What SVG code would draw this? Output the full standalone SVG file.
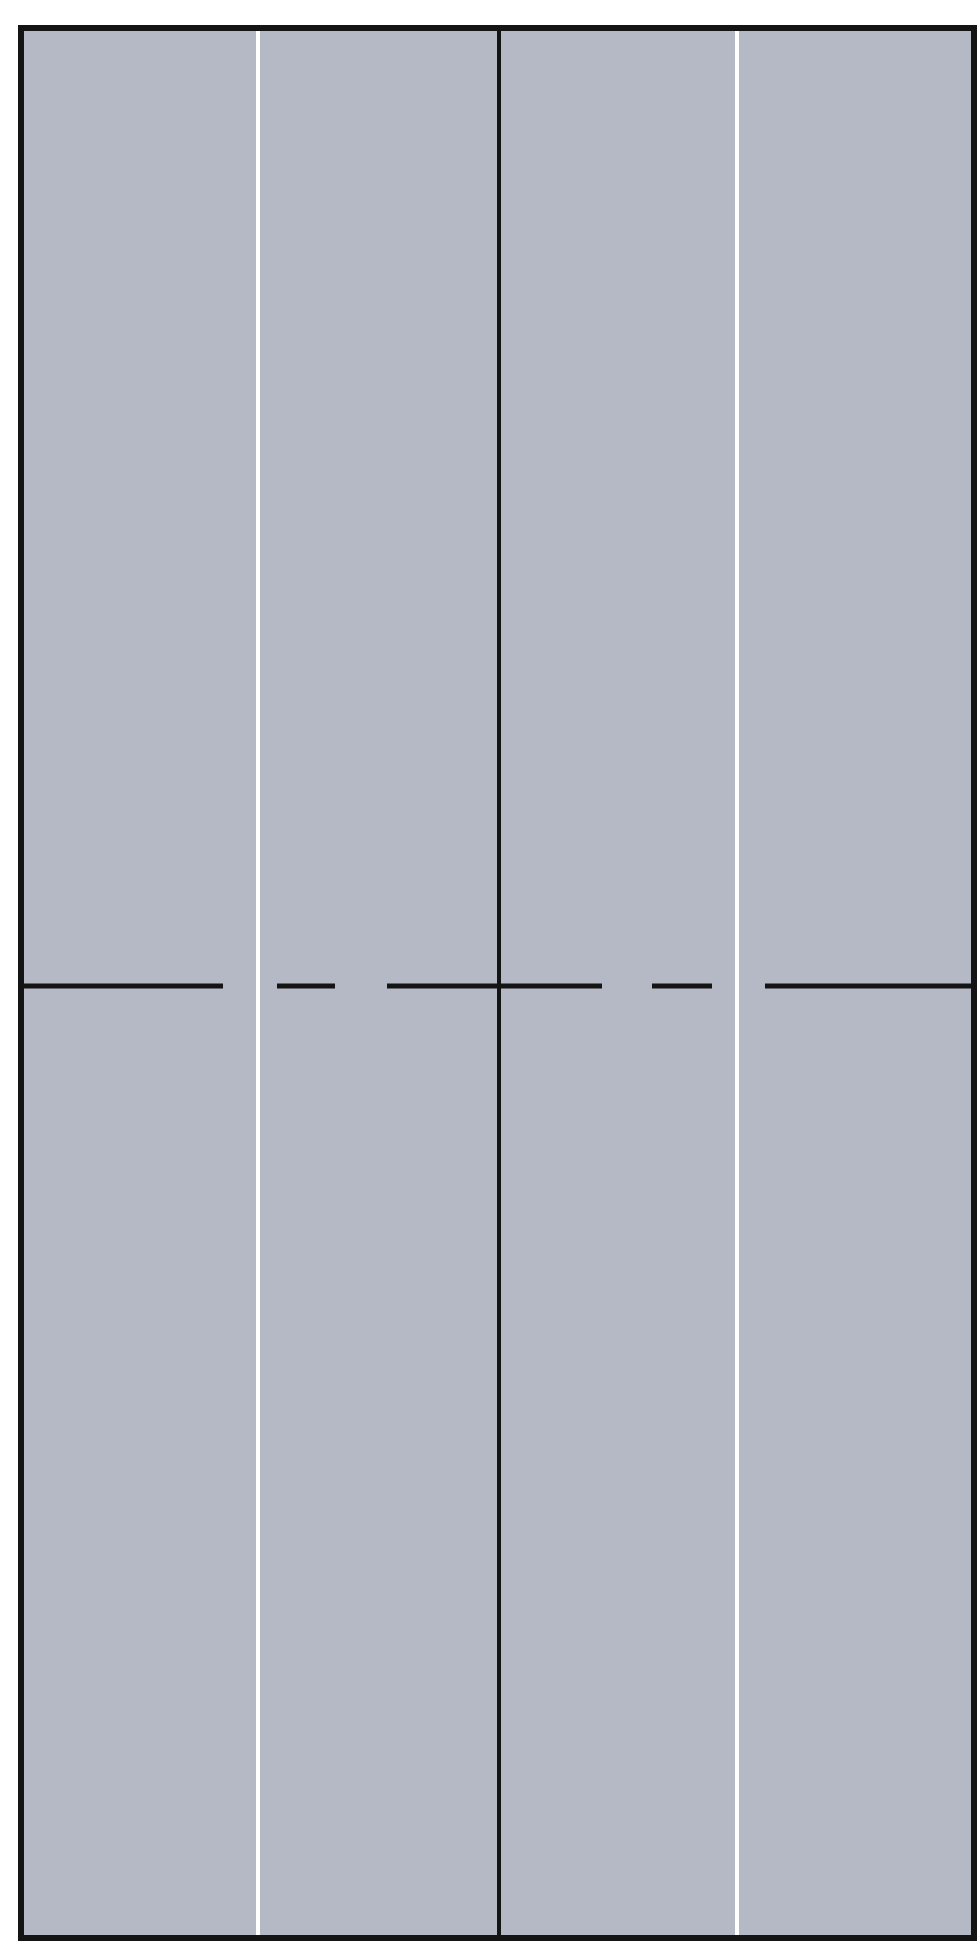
<svg xmlns="http://www.w3.org/2000/svg" width="977" height="1944" viewBox="0 0 977 1944">
<style>
.wall{stroke:#141414;fill:none;stroke-linecap:butt}
.gap{stroke:#ffffff;stroke-width:4}
</style>
<rect width="977" height="1944" fill="#ffffff"/>
<rect x="21" y="28" width="953" height="1910" fill="#b4b9c5"/>
<line class="gap" x1="258" y1="30" x2="258" y2="1936"/>
<line class="gap" x1="737" y1="30" x2="737" y2="1936"/>
<g class="wall" stroke-width="5">
<line x1="21" y1="986" x2="223" y2="986"/>
<line x1="277" y1="986" x2="335" y2="986"/>
<line x1="387" y1="986" x2="602" y2="986"/>
<line x1="652" y1="986" x2="712" y2="986"/>
<line x1="765" y1="986" x2="974" y2="986"/>
</g>
<line class="wall" stroke-width="4" x1="499" y1="28" x2="499" y2="1938"/>
<rect class="wall" stroke-width="6" x="21" y="28" width="953" height="1910"/>
</svg>
